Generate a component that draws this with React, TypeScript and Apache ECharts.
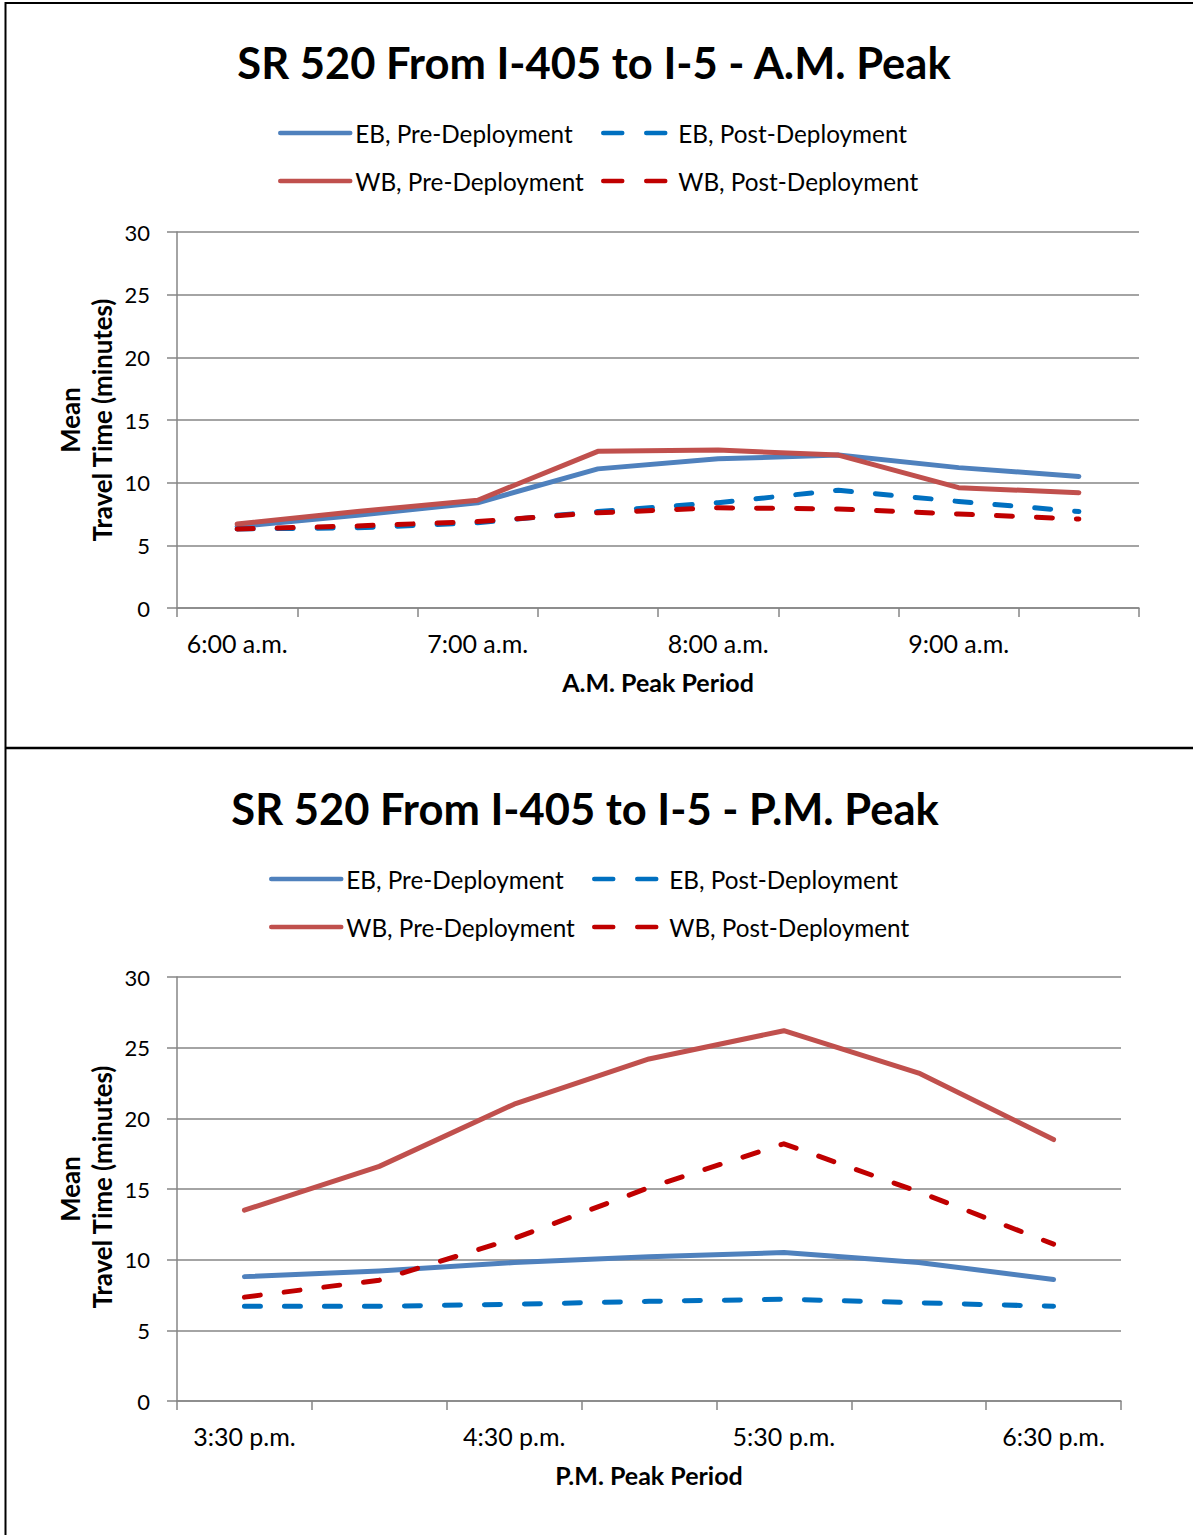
import React, { useEffect, useRef } from 'react';
import * as echarts from 'echarts';

const amCategories = ['6:00 a.m.', '6:30 a.m.', '7:00 a.m.', '7:30 a.m.', '8:00 a.m.', '8:30 a.m.', '9:00 a.m.', '9:30 a.m.'];
const amEbPre = [6.5, 7.4, 8.4, 11.1, 11.9, 12.2, 11.2, 10.5];
const amEbPost = [6.3, 6.4, 6.8, 7.7, 8.4, 9.4, 8.5, 7.7];
const amWbPre = [6.7, 7.7, 8.6, 12.5, 12.6, 12.2, 9.6, 9.2];
const amWbPost = [6.3, 6.55, 6.9, 7.6, 8.0, 7.9, 7.5, 7.1];

const pmCategories = ['3:30 p.m.', '4:00 p.m.', '4:30 p.m.', '5:00 p.m.', '5:30 p.m.', '6:00 p.m.', '6:30 p.m.'];
const pmEbPre = [8.8, 9.2, 9.8, 10.2, 10.5, 9.8, 8.6];
const pmEbPost = [6.7, 6.7, 6.85, 7.05, 7.2, 6.95, 6.7];
const pmWbPre = [13.5, 16.6, 21.0, 24.2, 26.2, 23.2, 18.5];
const pmWbPost = [7.35, 8.55, 11.5, 15.1, 18.2, 14.8, 11.1];

const seriesNames = ['EB, Pre-Deployment', 'EB, Post-Deployment', 'WB, Pre-Deployment', 'WB, Post-Deployment'];
const seriesColors = ['#4F81BD', '#0070C0', '#C0504D', '#C00000'];
const seriesDashed = [false, true, false, true];

const yTicks = { min: 0, max: 30, interval: 5 };

const FONT = 'Lato, "Open Sans", sans-serif';
const GRID_COLOR = '#868686';

export default function App() {
  const ref = useRef<HTMLDivElement>(null);

  useEffect(() => {
    if (!ref.current) return;
    const chart = echarts.init(ref.current, undefined, { renderer: 'svg' });

    const makeSeries = (gridIdx: number, data: number[][]) =>
      data.map((vals, i) => ({
        name: seriesNames[i],
        type: 'line',
        xAxisIndex: gridIdx,
        yAxisIndex: gridIdx,
        data: vals,
        symbol: 'none',
        showSymbol: false,
        smooth: false,
        z: 2 + i,
        lineStyle: {
          color: seriesColors[i],
          width: 5,
          type: seriesDashed[i] ? [16, 24] : 'solid',
          cap: 'round',
          join: 'round',
        },
        itemStyle: { color: seriesColors[i] },
        emphasis: { disabled: true },
      }));

    const xAxisBase = (cats: string[], gridIndex: number, name: string) => ({
      type: 'category',
      gridIndex,
      data: cats,
      boundaryGap: true,
      name,
      nameLocation: 'middle',
      nameGap: 61,
      nameTextStyle: { fontFamily: FONT, fontSize: 25, fontWeight: 'bold', color: '#000' },
      axisLine: { show: true, lineStyle: { color: GRID_COLOR, width: 1.5 } },
      axisTick: { show: true, interval: 0, length: 9, alignWithLabel: false, lineStyle: { color: GRID_COLOR, width: 1.5 } },
      axisLabel: { interval: 1, margin: 22, fontFamily: FONT, fontSize: 25, color: '#000' },
      splitLine: { show: false },
    });

    const yAxisBase = (gridIndex: number) => ({
      type: 'value',
      gridIndex,
      min: yTicks.min,
      max: yTicks.max,
      interval: yTicks.interval,
      axisLine: { show: true, lineStyle: { color: GRID_COLOR, width: 1.5 } },
      axisTick: { show: true, length: 10, lineStyle: { color: GRID_COLOR, width: 1.5 } },
      axisLabel: { margin: 27, fontFamily: FONT, fontSize: 22, color: '#000' },
      splitLine: { show: true, lineStyle: { color: GRID_COLOR, width: 1.5 } },
    });

    const legendBase = (left: number, top: number, names: string[], dashed: boolean) => ({
      orient: 'vertical',
      left,
      top,
      padding: 0,
      itemGap: 24,
      itemWidth: 70,
      itemHeight: 24,
      selectedMode: false,
      data: names,
      itemStyle: { opacity: 0, borderWidth: 0 },
      lineStyle: {
        width: 4.5,
        type: dashed ? [19, 24, 19, 200] : 'solid',
        cap: 'round',
      },
      textStyle: { fontFamily: FONT, fontSize: 24.3, color: '#000', lineHeight: 24 },
    });

    const yTitle = (x: number, y: number, text: string) => ({
      type: 'text',
      x,
      y,
      rotation: Math.PI / 2,
      style: {
        text,
        font: `bold 25.8px ${FONT}`,
        fill: '#000',
        textAlign: 'center',
        textVerticalAlign: 'middle',
        align: 'center',
        verticalAlign: 'middle',
      },
    });

    const option = {
      animation: false,
      backgroundColor: '#fff',
      title: [
        {
          text: 'SR 520 From I-405 to I-5 - A.M. Peak',
          left: 589,
          top: 35,
          textAlign: 'center',
          textStyle: { fontFamily: FONT, fontSize: 43.5, fontWeight: 'bold', color: '#000' },
        },
        {
          text: 'SR 520 From I-405 to I-5 - P.M. Peak',
          left: 580,
          top: 781,
          textAlign: 'center',
          textStyle: { fontFamily: FONT, fontSize: 43.5, fontWeight: 'bold', color: '#000' },
        },
      ],
      legend: [
        legendBase(278, 121, [seriesNames[0], seriesNames[2]], false),
        legendBase(601, 121, [seriesNames[1], seriesNames[3]], true),
        legendBase(269, 867, [seriesNames[0], seriesNames[2]], false),
        legendBase(592, 867, [seriesNames[1], seriesNames[3]], true),
      ],
      grid: [
        { left: 177, top: 232, width: 962, height: 376, containLabel: false },
        { left: 177, top: 977, width: 944, height: 424, containLabel: false },
      ],
      xAxis: [
        xAxisBase(amCategories, 0, 'A.M. Peak Period'),
        xAxisBase(pmCategories, 1, 'P.M. Peak Period'),
      ],
      yAxis: [yAxisBase(0), yAxisBase(1)],
      series: [
        ...makeSeries(0, [amEbPre, amEbPost, amWbPre, amWbPost]),
        ...makeSeries(1, [pmEbPre, pmEbPost, pmWbPre, pmWbPost]),
      ],
      graphic: [
        { type: 'line', shape: { x1: 5.5, y1: 3, x2: 1193, y2: 3 }, style: { stroke: '#000', lineWidth: 2 } },
        { type: 'line', shape: { x1: 5.5, y1: 2, x2: 5.5, y2: 1535 }, style: { stroke: '#000', lineWidth: 2 } },
        { type: 'line', shape: { x1: 5, y1: 748, x2: 1193, y2: 748 }, style: { stroke: '#000', lineWidth: 2.5 } },
        yTitle(70, 420, 'Mean'),
        yTitle(102, 420, 'Travel Time (minutes)'),
        yTitle(70, 1189, 'Mean'),
        yTitle(102, 1187, 'Travel Time (minutes)'),
      ],
    };

    chart.setOption(option as any);
    return () => chart.dispose();
  }, []);

  return (
    <div
      ref={ref}
      style={{ position: 'absolute', left: 0, top: 0, width: 1193, height: 1535, background: '#fff' }}
    />
  );
}
